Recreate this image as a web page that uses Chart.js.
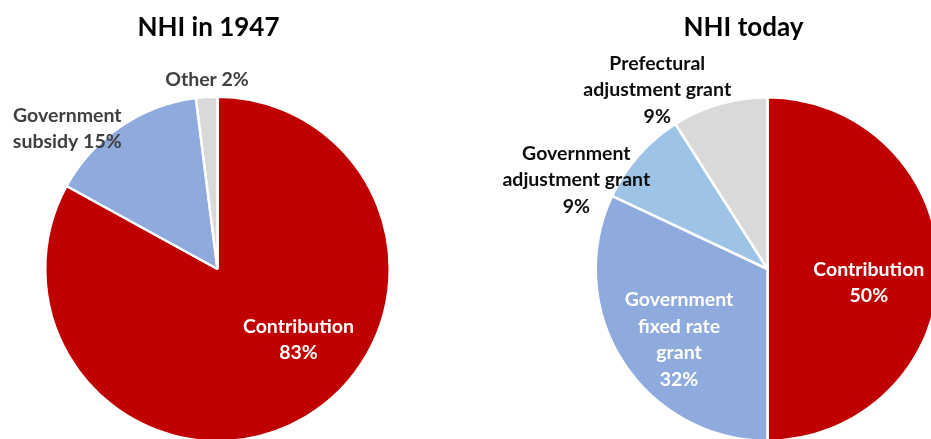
<!DOCTYPE html>
<html>
<head>
<meta charset="utf-8">
<script src="https://cdn.jsdelivr.net/npm/chart.js@4.4.1/dist/chart.umd.min.js"></script>
<style>
    html, body { margin: 0; padding: 0; background: #fff; overflow: hidden; }
    #wrap { position: relative; width: 931px; height: 439px; overflow: hidden; }
    canvas { position: absolute; top: 0; }
    #pie_1947 { left: 0; }
    #pie_today { left: 466px; }
</style>
</head>
<body>
<div id="wrap">
    <canvas id="pie_1947" width="466" height="460"></canvas>
    <canvas id="pie_today" width="480" height="460"></canvas>
</div>
<script>
// NHI funding sources, share in percent
const labels_1947 = [['Contribution', '83%'], ['Government', 'subsidy 15%'], ['Other 2%']];
const values_1947 = [83, 15, 2];

const labels_today = [
    ['Contribution', '50%'],
    ['Government', 'fixed rate', 'grant', '32%'],
    ['Government', 'adjustment grant', '9%'],
    ['Prefectural', 'adjustment grant', '9%']
];
const values_today = [50, 32, 9, 9];

const FONT = 'Lato, "Open Sans", sans-serif';

// text placement relative to the pie centre, in units of radius
const place_1947 = [
    { dx: 0.47, dy: 0.41, color: '#ffffff' },
    { dx: -0.872, dy: -0.814, color: '#404040' },
    { dx: -0.061, dy: -1.10, color: '#404040' }
];
const place_today = [
    { dx: 0.59, dy: 0.081, color: '#ffffff' },
    { dx: -0.515, dy: 0.413, color: '#ffffff' },
    { dx: -1.113, dy: -0.517, color: '#0d0d0d' },
    { dx: -0.642, dy: -1.041, color: '#0d0d0d' }
];

// draws the chart title and the slice labels
const sliceLabels = {
    id: 'sliceLabels',
    afterDatasetsDraw(chart, args, opts) {
        let ctx = chart.ctx;
        let meta = chart.getDatasetMeta(0);
        let lines = chart.data.labels;
        ctx.save();
        ctx.textAlign = 'center';
        ctx.textBaseline = 'middle';

        ctx.fillStyle = '#000000';
        ctx.font = 'bold 26px ' + FONT;
        ctx.fillText(opts.title, opts.titleX, 28);

        ctx.font = 'bold 19.5px ' + FONT;
        meta.data.forEach((arc, i) => {
            let p = opts.place[i];
            let r = arc.outerRadius;
            let cx = arc.x + p.dx * r;
            let cy = arc.y + p.dy * r;
            let lh = 26.5;
            let top = cy - (lines[i].length - 1) * lh / 2;
            ctx.fillStyle = p.color;
            lines[i].forEach((t, k) => ctx.fillText(t, cx, top + k * lh));
        });
        ctx.restore();
    }
};

function makePie(id, labels, values, colors, padding, title, titleX, place) {
    let config = {
        type: 'pie',
        data: {
            labels: labels,
            datasets: [{
                data: values,
                backgroundColor: colors,
                borderColor: '#ffffff',
                borderWidth: 2.5,
                borderAlign: 'center'
            }]
        },
        options: {
            responsive: false,
            animation: false,
            devicePixelRatio: 1,
            layout: { padding: padding },
            plugins: {
                legend: { display: false },
                tooltip: { enabled: false },
                sliceLabels: { title: title, titleX: titleX, place: place }
            }
        },
        plugins: [sliceLabels]
    };
    return new Chart(document.getElementById(id), config);
}

makePie('pie_1947', labels_1947, values_1947,
    ['#c00000', '#8faadc', '#d9d9d9'],
    { left: 44, right: 75, top: 95.5, bottom: 17.5 },
    'NHI in 1947', 208.5, place_1947);

makePie('pie_today', labels_today, values_today,
    ['#c00000', '#8faadc', '#9dc3e6', '#d9d9d9'],
    { left: 128.5, right: 5.5, top: 96, bottom: 18 },
    'NHI today', 277.5, place_today);
</script>
</body>
</html>
